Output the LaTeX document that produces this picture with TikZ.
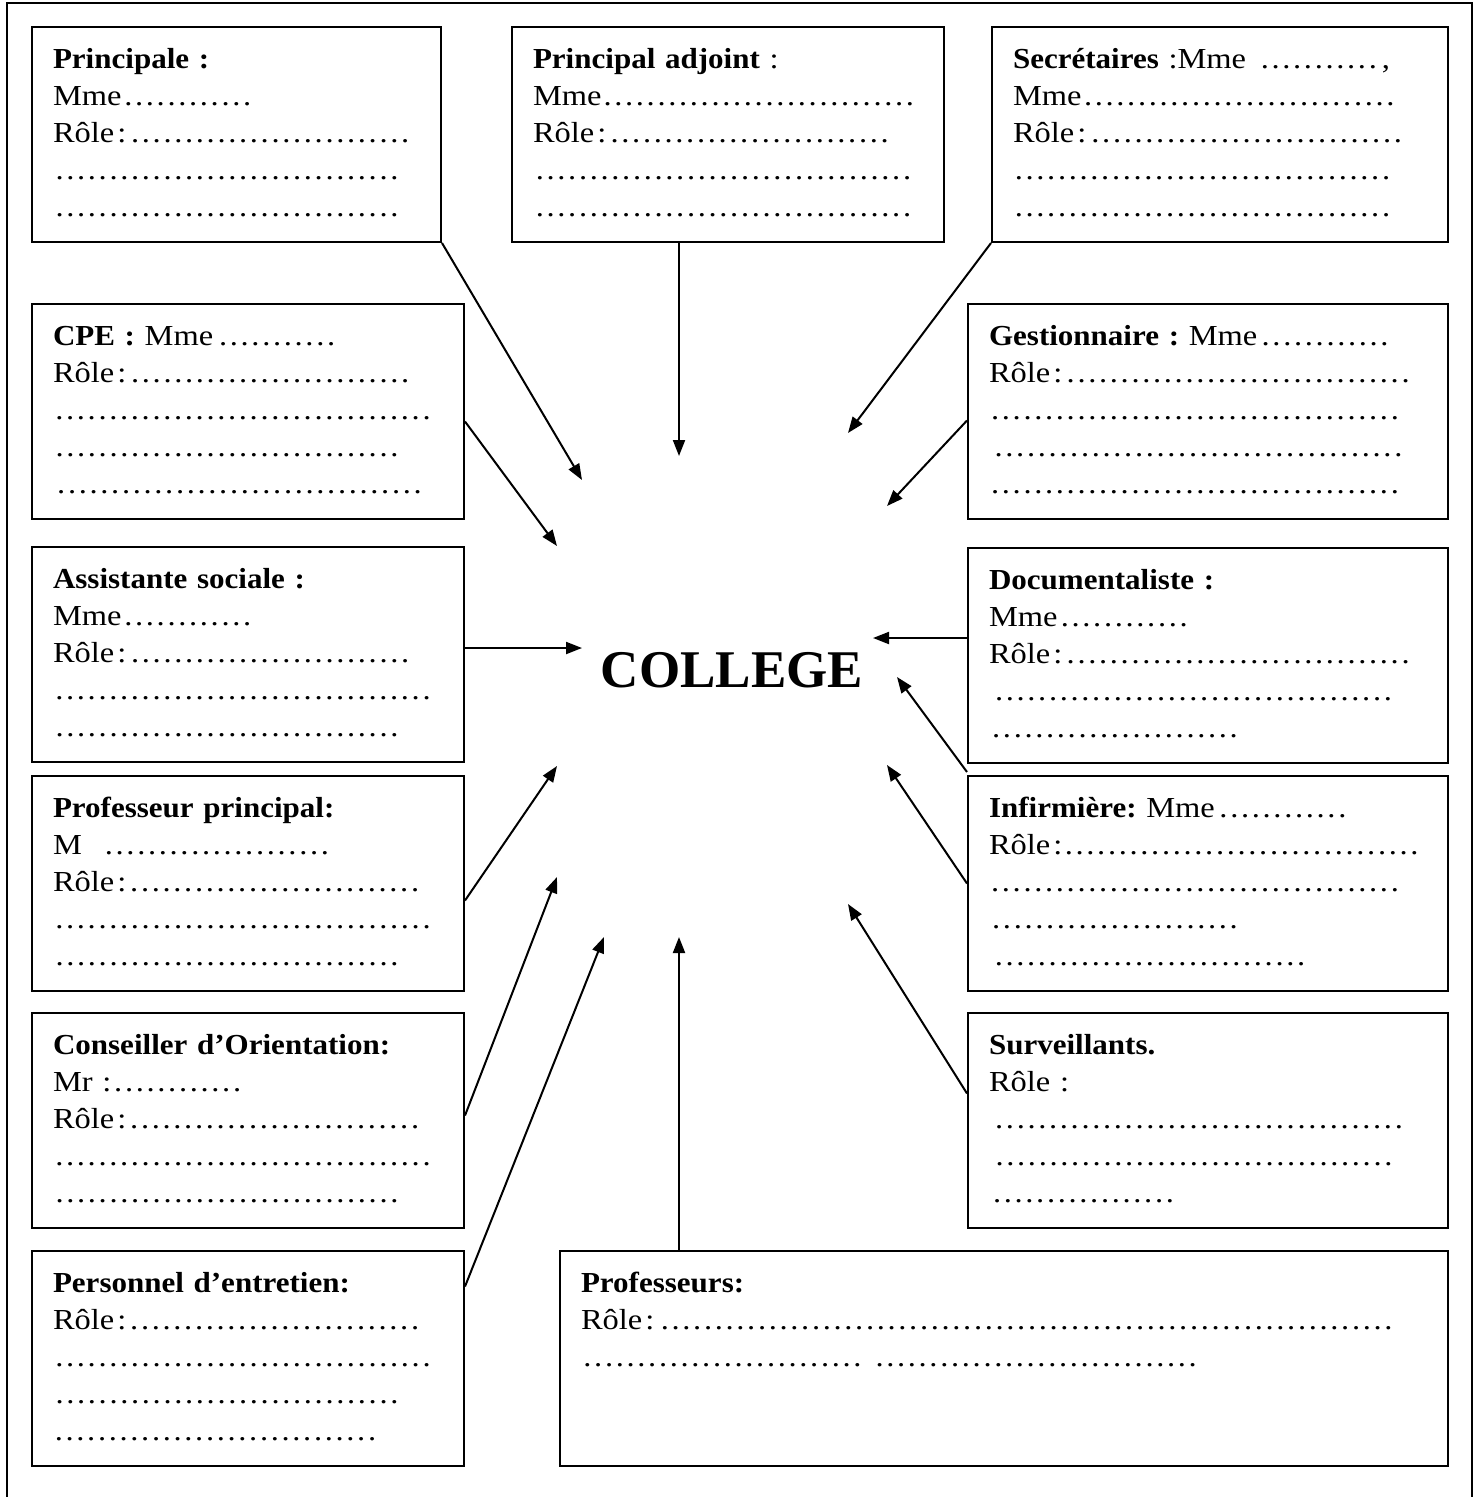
\documentclass[tikz,border=0pt]{standalone}
\usepackage{fontspec}
\setmainfont{Liberation Serif}[
	UprightFeatures={FakeStretch=1.12},
	BoldFeatures={FakeStretch=1.07}]
\newfontfamily\titrefamille{Liberation Serif}
\usepackage{tikz}
\usetikzlibrary{
	positioning,
	arrows.meta
}

\newcommand\corps{\fontsize{29}{37}\selectfont\frenchspacing}
\newcommand\titre{\titrefamille\fontsize{53}{60}\selectfont\bfseries}
\newcommand\pointilles{\cleaders\hbox to 10.8pt{\hss.\hss}\hfill}
\newcommand\ligne[2]{\leavevmode\hbox to #1pt{#2\pointilles}}
\newcommand\role{Rôle\kern3pt:}

\tikzset{
	poste/.style={draw, line width=2pt, anchor=north west, align=left,
		inner xsep=21pt, inner ysep=0pt, text width=#1,
		text height=41pt, text depth=174pt, font=\corps},
	fleche/.style={line width=2pt, -{Triangle[length=16pt,width=12pt]}}
}

\begin{document}
\begin{tikzpicture}[x=1pt,y=-1pt]
	\useasboundingbox (0,0) rectangle (1479,1497);
	\draw[line width=2pt] (7,1497) -- (7,3) -- (1472,3) -- (1472,1497);

	\node [poste=367pt] (principale) at (31,26)
		{\textbf{Principale :}\\ \ligne{201}{Mme}\\ \ligne{361}{\role}\\ \ligne{348}{}\\ \ligne{348}{}};
	\node [poste=390pt] (adjoint) at (511,26)
		{\textbf{Principal adjoint} :\\ \ligne{383}{Mme}\\ \ligne{360}{\role}\\ \ligne{381}{}\\ \ligne{381}{}};
	\node [poste=414pt] (secretaires) at (991,26)
		{\leavevmode\hbox to 377pt{\textbf{Secrétaires} :Mme \pointilles,}\\ \ligne{384}{Mme}\\ \ligne{394}{\role}\\ \ligne{379}{}\\ \ligne{379}{}};
	\node [poste=390pt] (cpe) at (31,303)
		{\ligne{288}{\textbf{CPE :} Mme}\\ \ligne{361}{\role}\\ \ligne{380}{}\\ \ligne{348}{}\\ \ligne{373}{}};
	\node [poste=438pt] (gestionnaire) at (967,303)
		{\ligne{404}{\textbf{Gestionnaire :} Mme}\\ \ligne{425}{\role}\\ \ligne{412}{}\\ \ligne{419}{}\\ \ligne{412}{}};
	\node [poste=390pt] (assistante) at (31,546)
		{\textbf{Assistante sociale :}\\ \ligne{201}{Mme}\\ \ligne{361}{\role}\\ \ligne{380}{}\\ \ligne{348}{}};
	\node [poste=438pt] (documentaliste) at (967,547)
		{\textbf{Documentaliste :}\\ \ligne{202}{Mme}\\ \ligne{425}{\role}\\ \ligne{409}{}\\ \ligne{252}{}};
	\node [poste=390pt] (profprincipal) at (31,775)
		{\textbf{Professeur principal:}\\ \ligne{281}{M\hspace{18pt}}\\ \ligne{370}{\role}\\ \ligne{380}{}\\ \ligne{348}{}};
	\node [poste=438pt] (infirmiere) at (967,775)
		{\ligne{362}{\textbf{Infirmière:} Mme}\\ \ligne{432}{\role}\\ \ligne{412}{}\\ \ligne{252}{}\\ \ligne{322}{}};
	\node [poste=390pt] (conseiller) at (31,1012)
		{\textbf{Conseiller d’Orientation:}\\ \ligne{191}{Mr :}\\ \ligne{370}{\role}\\ \ligne{380}{}\\ \ligne{348}{}};
	\node [poste=438pt] (surveillants) at (967,1012)
		{\textbf{Surveillants.}\\ Rôle :\\ \ligne{420}{}\\ \ligne{410}{}\\ \ligne{189}{}};
	\node [poste=390pt] (personnel) at (31,1250)
		{\textbf{Personnel d’entretien:}\\ \ligne{370}{\role}\\ \ligne{380}{}\\ \ligne{348}{}\\ \ligne{325}{}};
	\node [poste=846pt] (professeurs) at (559,1250)
		{\textbf{Professeurs:}\\ \ligne{818}{\role}\\ \ligne{283}{} \ligne{325}{}};

	\node [font=\titre] (college) at (732,670) {COLLEGE};

	% bouts des fleches autour du college
	\coordinate (c-principale)     at (582,480);
	\coordinate (c-adjoint)        at (679,456);
	\coordinate (c-secretaires)    at (848,433);
	\coordinate (c-cpe)            at (557,546);
	\coordinate (c-gestionnaire)   at (887,506);
	\coordinate (c-assistante)     at (582,648);
	\coordinate (c-documentaliste) at (873,638);
	\coordinate (c-entre)          at (897,677);
	\coordinate (c-infirmiere)     at (887,765);
	\coordinate (c-surveillants)   at (848,904);
	\coordinate (c-profprincipal)  at (557,766);
	\coordinate (c-conseiller)     at (557,877);
	\coordinate (c-personnel)      at (604,937);
	\coordinate (c-professeurs)    at (679,937);

	\draw
		(principale.south east)                edge[fleche] (c-principale)
		(c-adjoint |- adjoint.south)           edge[fleche] (c-adjoint)
		(secretaires.south west)               edge[fleche] (c-secretaires)
		([yshift=-10pt]cpe.east)               edge[fleche] (c-cpe)
		([yshift=-9pt]gestionnaire.west)       edge[fleche] (c-gestionnaire)
		(assistante.east |- c-assistante)      edge[fleche] (c-assistante)
		(documentaliste.west |- c-documentaliste) edge[fleche] (c-documentaliste)
		([yshift=-8pt]documentaliste.south west) edge[fleche] (c-entre)
		(infirmiere.west)                      edge[fleche] (c-infirmiere)
		([yshift=27pt]surveillants.west)       edge[fleche] (c-surveillants)
		([yshift=-17pt]profprincipal.east)     edge[fleche] (c-profprincipal)
		([yshift=5pt]conseiller.east)          edge[fleche] (c-conseiller)
		([yshift=72pt]personnel.east)          edge[fleche] (c-personnel)
		(c-professeurs |- professeurs.north)   edge[fleche] (c-professeurs)
	;
\end{tikzpicture}
\end{document}
